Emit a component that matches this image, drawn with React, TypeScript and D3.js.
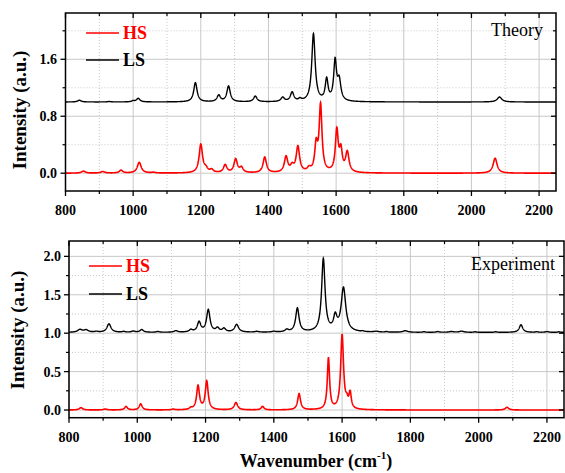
import React from "react";
import * as d3 from "d3";

// Peak tables: [center (cm-1), height (a.u.), half-width (cm-1)]
const theoryLS: [number, number, number][] = [
  [841, 0.025, 6], [929, 0.006, 6], [1000, 0.015, 5], [1015, 0.05, 6],
  [1184, 0.27, 6], [1253, 0.09, 6], [1282, 0.22, 6], [1361, 0.08, 6],
  [1442, 0.06, 6], [1470, 0.13, 6], [1493, 0.03, 5],
  [1533, 0.95, 6], [1572, 0.3, 5], [1597, 0.55, 5], [1609, 0.28, 6], [2083, 0.07, 8],
];
const theoryHS: [number, number, number][] = [
  [853, 0.028, 7], [910, 0.022, 7], [964, 0.04, 6], [1018, 0.15, 7], [1060, 0.01, 6],
  [1200, 0.4, 6], [1215, 0.05, 6], [1232, 0.04, 6], [1272, 0.11, 6], [1303, 0.19, 6],
  [1320, 0.07, 6], [1389, 0.22, 6], [1452, 0.22, 6], [1470, 0.08, 6], [1487, 0.36, 6],
  [1520, 0.05, 6], [1541, 0.36, 5], [1554, 0.93, 5], [1602, 0.58, 5], [1614, 0.29, 5],
  [1633, 0.28, 6], [2070, 0.21, 7],
];
const expLS: [number, number, number][] = [
  [832, 0.035, 8], [850, 0.03, 8], [880, 0.01, 6], [917, 0.11, 7], [960, 0.01, 5],
  [988, 0.015, 6], [1013, 0.035, 6], [1060, 0.01, 5], [1113, 0.02, 6], [1157, 0.03, 6],
  [1181, 0.13, 6], [1208, 0.29, 6], [1235, 0.05, 6], [1254, 0.045, 6], [1291, 0.1, 7],
  [1350, 0.01, 6], [1400, 0.01, 6], [1438, 0.03, 6], [1469, 0.31, 6],
  [1545, 0.95, 6], [1580, 0.18, 6], [1604, 0.57, 8], [1660, 0.008, 4], [1700, 0.01, 8],
  [1730, 0.008, 4], [1785, 0.02, 8], [1840, 0.008, 4], [1880, 0.01, 5], [1920, 0.01, 8],
  [1950, 0.015, 8], [1990, 0.008, 4], [2050, 0.008, 4], [2124, 0.1, 6], [2170, 0.008, 4],
  [2200, 0.01, 6], [2235, 0.008, 4],
];
const expHS: [number, number, number][] = [
  [835, 0.03, 6], [906, 0.012, 6], [967, 0.045, 5], [1010, 0.08, 5], [1105, 0.01, 5],
  [1157, 0.02, 5], [1178, 0.31, 5], [1203.5, 0.37, 5], [1289, 0.095, 6], [1367, 0.045, 5],
  [1474, 0.21, 5], [1560, 0.67, 4], [1600, 0.97, 5], [1614, 0.08, 4], [1623.5, 0.2, 4],
  [2083, 0.035, 6],
];
const theoryOffsetLS = 1.0;
const expOffsetLS = 1.01;

const xTicks = [800, 1000, 1200, 1400, 1600, 1800, 2000, 2200];
const xMinor = [900, 1100, 1300, 1500, 1700, 1900, 2100];
const topYTicks = [0, 0.8, 1.6];
const topYMinor = [0.4, 1.2, 2.0];
const botYTicks = [0, 0.5, 1.0, 1.5, 2.0];
const botYMinor = [0.25, 0.75, 1.25, 1.75];

const FONT = "'Liberation Serif', 'Times New Roman', serif";

function spectrum(peaks: [number, number, number][], offset: number) {
  const pts: [number, number][] = [];
  for (let x = 800; x <= 2250; x += 0.5) {
    let y = offset;
    for (const [c, h, g] of peaks) y += (h * g * g) / ((x - c) * (x - c) + g * g);
    pts.push([x, y]);
  }
  return pts;
}

type PanelProps = {
  id: string;
  left: number; right: number; top: number; bottom: number;
  yDomain: [number, number];
  yTicks: number[]; yMinor: number[];
  yFmt: (v: number) => string;
  ls: [number, number][]; hs: [number, number][];
  label: string; labelX: number; labelY: number;
  legX: number; legY1: number; legY2: number;
  yTitleX: number; yTitleY: number;
  yTickRight: number;
  xLabelY: number;
};

function Panel(p: PanelProps) {
  const x = d3.scaleLinear().domain([800, 2250]).range([p.left, p.right]);
  const y = d3.scaleLinear().domain(p.yDomain).range([p.bottom, p.top]);
  const line = d3.line<[number, number]>().x((d) => x(d[0])).y((d) => y(d[1]));
  const grid = "#c8c8c8";
  return (
    <g>
      <defs>
        <clipPath id={p.id}>
          <rect x={p.left} y={p.top} width={p.right - p.left} height={p.bottom - p.top} />
        </clipPath>
      </defs>
      {xMinor.map((t) => (
        <line key={"xm" + t} x1={x(t)} x2={x(t)} y1={p.top} y2={p.bottom} stroke={grid} strokeWidth={1} strokeDasharray="1,2" />
      ))}
      {p.yMinor.map((t) => (
        <line key={"ym" + t} x1={p.left} x2={p.right} y1={y(t)} y2={y(t)} stroke={grid} strokeWidth={1} strokeDasharray="1,2" />
      ))}
      {xTicks.map((t) => (
        <line key={"xg" + t} x1={x(t)} x2={x(t)} y1={p.top} y2={p.bottom} stroke={grid} strokeWidth={1} />
      ))}
      {p.yTicks.map((t) => (
        <line key={"yg" + t} x1={p.left} x2={p.right} y1={y(t)} y2={y(t)} stroke={grid} strokeWidth={1} />
      ))}
      <g clipPath={`url(#${p.id})`}>
        <path d={line(p.ls) || ""} fill="none" stroke="#000" strokeWidth={1.4} />
        <path d={line(p.hs) || ""} fill="none" stroke="#ff0000" strokeWidth={1.6} />
      </g>
      {xTicks.map((t) => (
        <g key={"xt" + t}>
          <line x1={x(t)} x2={x(t)} y1={p.bottom} y2={p.bottom + 5} stroke="#000" strokeWidth={1.3} />
          <line x1={x(t)} x2={x(t)} y1={p.top} y2={p.top + 5} stroke="#000" strokeWidth={1.3} />
          <text x={x(t)} y={p.xLabelY} textAnchor="middle" fontFamily={FONT} fontWeight="bold" fontSize={14}>{t}</text>
        </g>
      ))}
      {xMinor.map((t) => (
        <g key={"xmt" + t}>
          <line x1={x(t)} x2={x(t)} y1={p.bottom} y2={p.bottom + 3} stroke="#000" strokeWidth={1.2} />
          <line x1={x(t)} x2={x(t)} y1={p.top} y2={p.top + 3} stroke="#000" strokeWidth={1.2} />
        </g>
      ))}
      {p.yTicks.map((t) => (
        <g key={"yt" + t}>
          <line x1={p.left - 5} x2={p.left} y1={y(t)} y2={y(t)} stroke="#000" strokeWidth={1.3} />
          <line x1={p.right - 5} x2={p.right} y1={y(t)} y2={y(t)} stroke="#000" strokeWidth={1.3} />
          <text x={p.yTickRight} y={y(t)} dy="0.35em" textAnchor="end" fontFamily={FONT} fontWeight="bold" fontSize={14}>{p.yFmt(t)}</text>
        </g>
      ))}
      {p.yMinor.map((t) => (
        <g key={"ymt" + t}>
          <line x1={p.left - 3} x2={p.left} y1={y(t)} y2={y(t)} stroke="#000" strokeWidth={1.2} />
          <line x1={p.right - 3} x2={p.right} y1={y(t)} y2={y(t)} stroke="#000" strokeWidth={1.2} />
        </g>
      ))}
      <rect x={p.left} y={p.top} width={p.right - p.left} height={p.bottom - p.top} fill="none" stroke="#000" strokeWidth={1.5} />
      <text x={p.labelX} y={p.labelY} textAnchor="end" fontFamily={FONT} fontSize={18}>{p.label}</text>
      <line x1={p.legX} x2={p.legX + 33} y1={p.legY1} y2={p.legY1} stroke="#ff0000" strokeWidth={1.6} />
      <text x={p.legX + 37} y={p.legY1} dy="0.33em" fontFamily={FONT} fontWeight="bold" fontSize={18} fill="#ff0000">HS</text>
      <line x1={p.legX} x2={p.legX + 33} y1={p.legY2} y2={p.legY2} stroke="#000" strokeWidth={1.6} />
      <text x={p.legX + 37} y={p.legY2} dy="0.33em" fontFamily={FONT} fontWeight="bold" fontSize={18} fill="#000">LS</text>
      <text transform={`translate(${p.yTitleX},${p.yTitleY}) rotate(-90)`} textAnchor="middle" dy="0.35em" fontFamily={FONT} fontWeight="bold" fontSize={19}>Intensity (a.u.)</text>
    </g>
  );
}

export default function App() {
  const tLS = spectrum(theoryLS, theoryOffsetLS);
  const tHS = spectrum(theoryHS, 0);
  const eLS = spectrum(expLS, expOffsetLS);
  const eHS = spectrum(expHS, 0);
  return (
    <svg width={565} height={473} style={{ position: "absolute", left: 0, top: 0, background: "#fff" }}>
      <rect width={565} height={473} fill="#fff" />
      <Panel
        id="clipTop" left={65.5} right={556} top={13} bottom={191}
        yDomain={[-0.25, 2.25]} yTicks={topYTicks} yMinor={topYMinor}
        yFmt={(v) => v.toFixed(1)} ls={tLS} hs={tHS}
        label="Theory" labelX={543} labelY={36}
        legX={86} legY1={33} legY2={60}
        yTitleX={19} yTitleY={110} yTickRight={57} xLabelY={215}
      />
      <Panel
        id="clipBot" left={69} right={564} top={241} bottom={417.7}
        yDomain={[-0.1, 2.2]} yTicks={botYTicks} yMinor={botYMinor}
        yFmt={(v) => v.toFixed(1)} ls={eLS} hs={eHS}
        label="Experiment" labelX={555} labelY={270}
        legX={89} legY1={266} legY2={294}
        yTitleX={17} yTitleY={330} yTickRight={61} xLabelY={442}
      />
      <text x={316} y={467} textAnchor="middle" fontFamily={FONT} fontWeight="bold" fontSize={18}>
        Wavenumber (cm<tspan fontSize={11} dy={-8}>-1</tspan><tspan dy={8}>)</tspan>
      </text>
    </svg>
  );
}
